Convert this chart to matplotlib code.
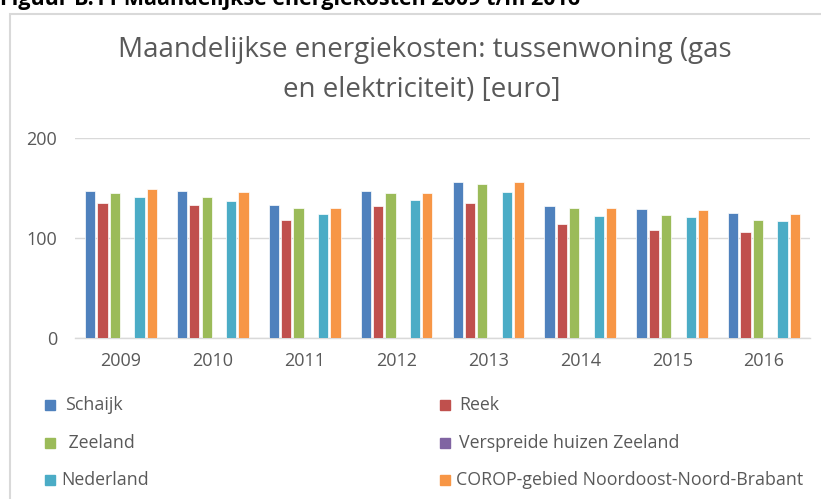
import matplotlib.pyplot as plt
import numpy as np
from matplotlib.patches import Rectangle

# ----------------------------
# DATA
# ----------------------------
years = ["2009", "2010", "2011", "2012", "2013", "2014", "2015", "2016"]
series_names = [
    "Schaijk",
    "Reek",
    " Zeeland",
    "Verspreide huizen Zeeland",
    "Nederland",
    "COROP-gebied Noordoost-Noord-Brabant",
]
schaijk = [147, 147, 133, 147, 156, 132, 129, 125]
reek = [135, 133, 118, 132, 135, 114, 108, 106]
zeeland = [145, 141, 130, 145, 154, 130, 123, 118]
verspreide = [np.nan] * 8
nederland = [141, 137, 124, 138, 146, 122, 121, 117]
corop = [149, 146, 130, 145, 156, 130, 128, 124]
y_ticks = [0, 100, 200]

colors = ["#4F81BD", "#C0504D", "#9BBB59", "#8064A2", "#4BACC6", "#F79646"]
W, H = 821, 499
GREY = "#595959"


def main() -> None:
    plt.rcParams["font.family"] = ["Open Sans", "DejaVu Sans"]
    fig = plt.figure(figsize=(W / 100, H / 100), dpi=100)

    # outer chart frame (runs off the right and bottom edge)
    fig.patches.append(Rectangle((10 / W, -0.05), 1.0, 1 - 14 / H + 0.05,
                                 transform=fig.transFigure, fill=False,
                                 edgecolor="#D9D9D9", linewidth=1.5))

    ax = fig.add_axes([75 / W, 1 - 338 / H, (810 - 75) / W, 200 / H])

    all_series = [schaijk, reek, zeeland, verspreide, nederland, corop]
    x = np.arange(len(years))
    pitch = 0.134
    width = 0.112
    for i, (vals, col) in enumerate(zip(all_series, colors)):
        offs = (i - 2.5) * pitch
        ax.bar(x + offs, np.nan_to_num(vals), width=width, color=col,
               edgecolor="white", linewidth=0.5, zorder=3)

    ax.set_xlim(-0.5, len(years) - 0.5)
    ax.set_ylim(0, 200)
    ax.set_yticks(y_ticks)
    ax.set_xticks(x)
    ax.set_xticklabels(years)
    ax.tick_params(length=0, colors=GREY, labelsize=13)
    ax.tick_params(axis="y", pad=13)
    ax.tick_params(axis="x", pad=10)
    ax.grid(axis="y", color="#D9D9D9", linewidth=1.0, zorder=0)
    for s in ["top", "right", "left"]:
        ax.spines[s].set_visible(False)
    ax.spines["bottom"].set_color("#D9D9D9")
    ax.spines["bottom"].set_linewidth(1.0)

    fig.text(425 / W, 1 - 50 / H, "Maandelijkse energiekosten: tussenwoning (gas",
             ha="center", va="center", fontsize=20, color=GREY)
    fig.text(422 / W, 1 - 90 / H, "en elektriciteit) [euro]",
             ha="center", va="center", fontsize=20, color=GREY)

    fig.text(0, 1 - 5 / H, "Figuur B.11 Maandelijkse energiekosten 2009 t/m 2016",
             ha="left", va="baseline", fontsize=15.5, fontweight="bold",
             color="black")

    # legend, two columns
    rows = [405, 443, 480]
    col_x = [45, 440]
    text_gap = [20, 19, 19, 19, 16, 16]
    for i, (name, col) in enumerate(zip(series_names, colors)):
        cx = col_x[i % 2]
        cy = rows[i // 2]
        fig.patches.append(Rectangle((cx / W, 1 - (cy + 5) / H), 10 / W, 10 / H,
                                     transform=fig.transFigure, color=col))
        fig.text((cx + text_gap[i]) / W, 1 - cy / H, name, ha="left", va="center",
                 fontsize=12.8, color=GREY)

    fig.savefig("out.png", dpi=100)
    plt.close(fig)


if __name__ == "__main__":
    main()
